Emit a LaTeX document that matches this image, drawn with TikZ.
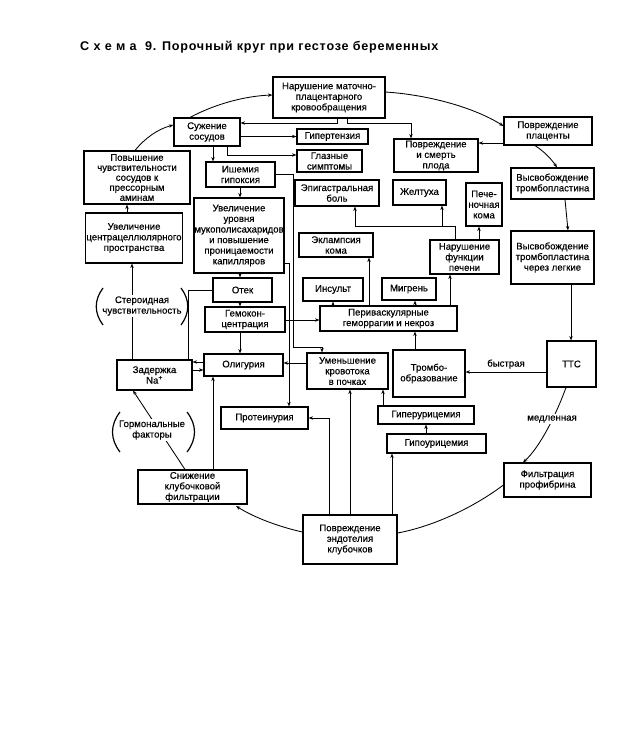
\documentclass[tikz,border=0pt]{standalone}
\usepackage{fontspec}
\setmainfont{Liberation Sans}
\newfontfamily\bxfont{Liberation Sans}[FakeBold=0.35]
\newfontfamily\ttlfont{Liberation Sans}[LetterSpace=6]
\usetikzlibrary{arrows.meta}
\begin{document}
\begin{tikzpicture}[x=1pt,y=-1pt,
  bx/.style={draw, line width=1.1pt, align=center, inner sep=1pt, font=\bxfont\fontsize{9.6}{10.6}\selectfont},
  wh/.style 2 args={minimum width=#1pt, minimum height=#2pt},
  ar/.style={-{Stealth[length=4.5pt,width=3.4pt]}, line width=0.85pt},
  ln/.style={line width=0.85pt},
  lbl/.style={font=\bxfont\fontsize{9.6}{10.6}\selectfont, align=center, inner sep=1pt},
  par/.style={line width=1.2pt}]
\fill[white] (0,0) rectangle (629,753);
\useasboundingbox (0,0) rectangle (629,753);

\node[font=\ttlfont\bfseries\fontsize{12.6}{14}\selectfont, anchor=west, inner sep=0pt] (title) at (80,47) {С\ х\ е\ м\ а\ \ 9. Порочный круг при гестозе беременных};

\node[bx, wh={112}{41}] (nar) at (329,97.5) {Нарушение маточно-\\плацентарного\\кровообращения};
\node[bx, wh={66}{28}] (suz) at (207,132) {Сужение\\сосудов};
\node[bx, wh={71}{15}] (gip) at (332.5,136.5) {Гипертензия};
\node[bx, wh={65}{22}] (glaz) at (329.5,161) {Глазные\\симптомы};
\node[bx, wh={84}{33}] (plod) at (436,155.5) {Повреждение\\и смерть\\плода};
\node[bx, wh={88}{28}] (plac) at (548,131) {Повреждение\\плаценты};
\node[bx, wh={83}{31}] (tromb1) at (552.5,183.5) {Высвобождение\\тромбопластина};
\node[bx, wh={83}{53}] (tromb2) at (552.5,257.5) {Высвобождение\\тромбопластина\\через легкие};
\node[bx, wh={49}{46}] (tts) at (571.5,364) {ТТС};
\node[bx, wh={87}{34}] (filt) at (547.5,480) {Фильтрация\\профибрина};
\node[bx, wh={94}{49}] (endo) at (350,539.5) {Повреждение\\эндотелия\\клубочков};
\node[bx, wh={109}{34}] (snizh) at (192.5,487) {Снижение\\клубочковой\\фильтрации};
\node[bx, wh={75}{30}] (zad) at (154.5,375) {Задержка\\Na\textsuperscript{+}};
\node[bx, wh={79}{22}] (olig) at (243.5,365) {Олигурия};
\node[bx, wh={87}{22}] (prot) at (264.5,418) {Протеинурия};
\node[bx, wh={81}{36}] (umen) at (347.5,371) {Уменьшение\\кровотока\\в почках};
\node[bx, wh={72}{47}] (trbo) at (429,373.5) {Тромбо-\\образование};
\node[bx, wh={96}{18}] (giper) at (426,415) {Гиперурицемия};
\node[bx, wh={99}{19}] (gipo) at (436.5,443.5) {Гипоурицемия};
\node[bx, wh={137}{25}] (peri) at (388.5,318.5) {Периваскулярные\\геморрагии и некроз};
\node[bx, wh={60}{23}] (ins) at (333,289.5) {Инсульт};
\node[bx, wh={54}{22}] (migr) at (409,289) {Мигрень};
\node[bx, wh={74}{24}] (ekl) at (336,245) {Эклампсия\\кома};
\node[bx, wh={84}{26}] (epig) at (337,193) {Эпигастральная\\боль};
\node[bx, wh={53}{25}] (zhelt) at (419.5,192.5) {Желтуха};
\node[bx, wh={36}{43}] (pkoma) at (484,204.5) {Пече-\\ночная\\кома};
\node[bx, wh={69}{34}] (npech) at (464.5,257) {Нарушение\\функции\\печени};
\node[bx, wh={69}{25}] (ish) at (240.5,174.5) {Ишемия\\гипоксия};
\node[bx, wh={90}{75}, inner sep=0pt] (uvur) at (239,235.5) {Увеличение\\уровня\\мукополисахаридов\\и повышение\\проницаемости\\капилляров};
\node[bx, wh={59}{24}] (otek) at (242.5,290) {Отек};
\node[bx, wh={80}{25}] (gemo) at (245,319.5) {Гемокон-\\центрация};
\node[bx, wh={106}{53}, font=\bxfont\fontsize{9.6}{10}\selectfont] (povch) at (137,177.5) {Повышение\\чувствительности\\сосудов к\\прессорным\\аминам};
\node[bx, wh={96}{50}] (uvcen) at (134,238) {Увеличение\\центрацеллюлярного\\пространства};

% circle arcs
\draw[ar] (135,0 |- povch.north) .. controls (145,138) and (158,129) .. (suz.west |- 0,125);
\draw[ar] (190,0 |- suz.north) .. controls (215,104) and (245,96) .. (nar.west |- 0,95);
\draw[ar] (nar.east |- 0,92) .. controls (430,95) and (475,108) .. (plac.west |- 0,126);
\draw[ar] (535,0 |- plac.south) .. controls (545,152) and (552,160) .. (557,0 |- tromb1.north);
\draw[ar] (565,0 |- tromb1.south) -- (568,0 |- tromb2.north);
\draw[ar] (571,0 |- tromb2.south) -- (571,0 |- tts.north);
\draw[ar] (tts.west |- 0,372) -- node[lbl, above=2pt] (fast) {быстрая} (trbo.east |- 0,372);
\draw[ar] (566,0 |- tts.south) .. controls (556,415) and (540,447) .. (523,0 |- filt.north);
\node[lbl, fill=white] (slow) at (552,419) {медленная};
\draw[ln] (filt.west |- 0,485) .. controls (470,510) and (430,527) .. (endo.east |- 0,533);
\draw[ar] (endo.west |- 0,532) .. controls (280,527) and (255,518) .. (236,506);

% hormonal factors
\draw[ar] (185,0 |- snizh.north) -- (133,0 |- zad.south);
\node[lbl, fill=white] (horm) at (152,430) {Гормональные\\факторы};
\draw[par] (120,412) .. controls (110,425) and (110,439) .. (120,452);
\draw[par] (187,412) .. controls (197,425) and (197,439) .. (187,452);
\draw[ar] (213,0 |- snizh.north) -- (213,0 |- olig.south);

% steroid
\draw[ar] (132,0 |- zad.north) -- (132,0 |- uvcen.south);
\node[lbl, fill=white] (ster) at (142,306) {Стероидная\\чувствительность};
\draw[par] (103,288) .. controls (94,300) and (94,313) .. (103,325);
\draw[par] (181,288) .. controls (190,300) and (190,313) .. (181,325);
\draw[ar] (127,0 |- uvcen.north) -- (127,0 |- povch.south);
\draw[ln] (188,0 |- zad.north) |- (otek.west);
\draw[ar] (olig.west |- 0,362) -- (zad.east |- 0,362);
\draw[ar] (zad.east |- 0,370) -- (olig.west |- 0,370);

% upper middle
\draw[ar] (213,0 |- suz.south) -- (213,0 |- ish.north);
\draw[ar] (suz.east |- gip.west) -- (gip.west);
\draw[ar] (227,0 |- suz.south) |- (glaz.west |- 0,155);
\draw[ar] (337,0 |- nar.south) |- (suz.east |- 0,123);
\draw[ar] (347,0 |- nar.south) |- (411,123) -- (411,0 |- plod.north);
\draw[ar] (plac.west |- 0,143) -- (plod.east |- 0,143);

% left chain
\draw[ar] (240,0 |- ish.south) -- (240,0 |- uvur.north);
\draw[ar] (ish.east) -| (293,347) -| (322,0 |- umen.north);
\draw[ar] (uvur.east |- 0,263) -| (289,0 |- prot.north);
\draw[ar] (240,0 |- uvur.south) -- (240,0 |- otek.north);
\draw[ar] (240,0 |- otek.south) -- (240,0 |- gemo.north);
\draw[ar] (240,0 |- gemo.south) -- (240,0 |- olig.north);
\draw[ar] (gemo.east |- 0,320) -- (peri.west |- 0,320);
\draw[ar] (umen.west |- 0,363) -- (olig.east |- 0,363);

% perivascular
\draw[ar] (333,0 |- peri.north) -- (333,0 |- ins.south);
\draw[ar] (415,0 |- peri.north) -- (415,0 |- migr.south);
\draw[ar] (450,0 |- peri.north) -- (450,0 |- npech.south);
\draw[ar] (369,0 |- peri.north) -- (369,0 |- ekl.south);
\draw[ar] (415,0 |- trbo.north) -- (415,0 |- peri.south);
\draw[ar] (479,0 |- npech.north) -- (479,0 |- pkoma.south);
\draw[ar] (455,0 |- npech.north) |- (355,226) -- (355,0 |- epig.south);
\draw[ar] (442,226) -- (442,0 |- zhelt.south);

% bottom
\draw[ar] (329,0 |- endo.north) |- (prot.east);
\draw[ar] (350,0 |- endo.north) -- (350,0 |- umen.south);
\draw[ar] (392,0 |- endo.north) -- (392,0 |- gipo.south);
\draw[ar] (426,0 |- gipo.north) -- (426,0 |- giper.south);
\draw[ar] (383,0 |- giper.north) -- (383,0 |- umen.south);
\end{tikzpicture}
\end{document}
